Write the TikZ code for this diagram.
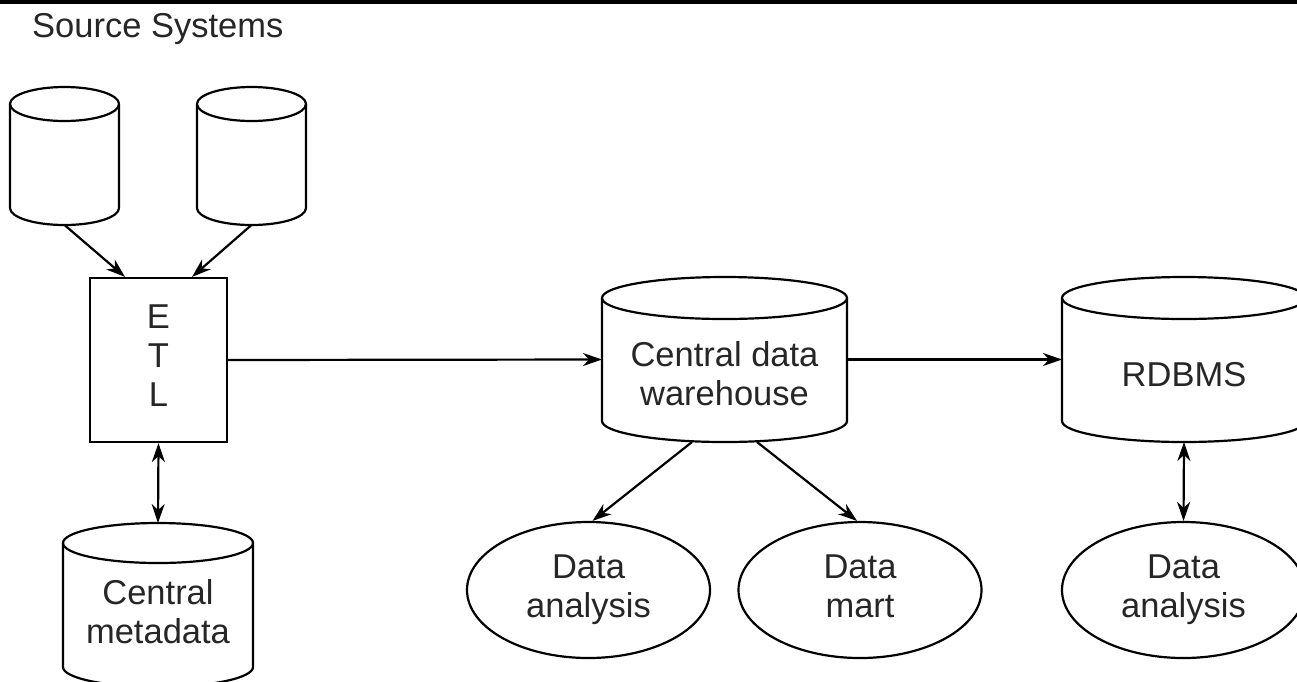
\documentclass[tikz,border=0pt]{standalone}
\usepackage{fontspec}
\setmainfont{Liberation Sans}
\usetikzlibrary{arrows.meta,calc,shapes.geometric}

\tikzset{
  line/.style={line width=2.2pt, draw=black},
  tip/.tip={Stealth[length=19pt,width=13pt,inset=6pt]},
  arr/.style={line, -tip},
  darr/.style={line, tip-tip},
  lbl/.style={font=\fontsize{34.5}{39}\selectfont, text=black!85, align=center, inner sep=0pt},
  cylbox/.style={rectangle, draw=none, inner sep=0pt, outer sep=0pt},
  oval/.style={ellipse, line, lbl, minimum width=243pt, minimum height=136pt},
  etlbox/.style={rectangle, line, lbl, minimum width=137pt, minimum height=164pt},
}

% database drum: name, centre x, centre y, width, height, cap radius
\newcommand\dbcyl[6]{%
  \node[cylbox, minimum width=#4pt, minimum height=#5pt] (#1) at (#2,#3) {};
  \draw[line] ([yshift=-#6pt]#1.north west) -- ([yshift=#6pt]#1.south west)
    arc[start angle=180, end angle=360, x radius=#4pt/2, y radius=#6pt]
    -- ([yshift=-#6pt]#1.north east);
  \draw[line] ([yshift=-#6pt]#1.north) ellipse[x radius=#4pt/2, y radius=#6pt];
}

\begin{document}
\begin{tikzpicture}[x=1pt, y=-1pt]
  \useasboundingbox (0,0) rectangle (1297,681);
  \clip (0,0) rectangle (1297,681);
  \fill[white] (0,0) rectangle (1297,681);
  \fill[black] (0,0) rectangle (1297,3.5);

  \node[lbl, anchor=base west] (srctitle) at (32,37) {Source Systems};

  % source systems
  \dbcyl{srcA}{64.5}{156}{109}{138}{17}
  \dbcyl{srcB}{251.5}{156}{109}{138}{17}

  % extract, transform, load
  \node[etlbox] (etl) at (158.5,360) {E\strut\\T\\L\strut};

  % metadata store
  \dbcyl{meta}{158}{605}{190}{164}{20}
  \node[lbl] (metalbl) at (158,616) {Central\strut\\metadata\strut};

  % warehouse and relational store
  \dbcyl{dwh}{724.5}{359.5}{245}{165}{21}
  \node[lbl] (dwhlbl) at (724.5,378) {Central data\strut\\warehouse\strut};
  \dbcyl{rdbms}{1184}{359.5}{244}{165}{21}
  \node[lbl] (rdbmslbl) at (1184,379) {RDBMS\strut};

  % consumers
  \node[oval] (da1) at (588.5,590) {Data\strut\\analysis\strut};
  \node[oval] (mart) at (860,590) {Data\strut\\mart\strut};
  \node[oval] (da2) at (1183.5,590) {Data\strut\\analysis\strut};

  % connectors
  \draw[arr] (srcA.south) -- ([xshift=-33.5pt]etl.north);
  \draw[arr] (srcB.south) -- ([xshift=33.5pt]etl.north);
  \draw[darr] (etl.south) -- (meta.north);
  \draw[arr] (etl.east) -- (dwh.west);
  \draw[arr] (dwh.east) -- (rdbms.west);
  \draw[arr] ([xshift=-32.5pt]dwh.south) -- ([xshift=4pt]da1.north);
  \draw[arr] ([xshift=32.5pt]dwh.south) -- ([xshift=-3pt]mart.north);
  \draw[darr] (rdbms.south) -- (da2.north);
\end{tikzpicture}
\end{document}
